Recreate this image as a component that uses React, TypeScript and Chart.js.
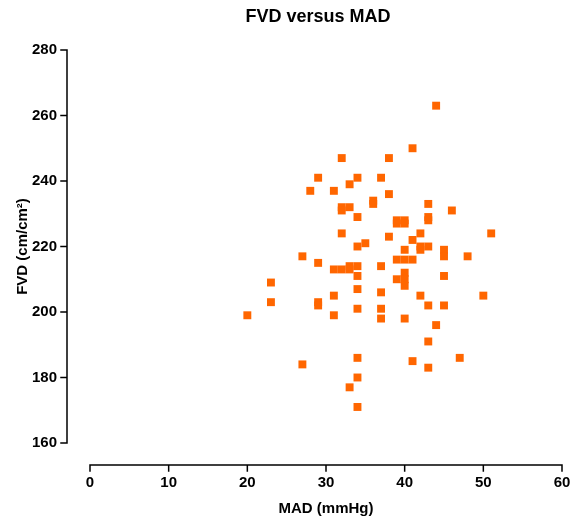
import React, { useEffect, useRef } from "react";
import { Chart, registerables } from "chart.js";

Chart.register(...registerables);

// MAD (mmHg)
const madValues = [
  44, 41, 32, 38, 29, 34, 37, 33, 28, 31, 38, 36, 36, 43, 32, 32, 33, 46, 34, 43,
  43, 39, 39, 40, 40, 32, 42, 51, 38, 41, 35, 34, 42, 42, 43, 40, 45, 45, 48, 27,
  29, 39, 40, 41, 31, 32, 33, 33, 34, 37, 40, 40, 40, 39, 34, 45, 23, 34, 37, 42,
  50, 31, 23, 29, 29, 34, 37, 43, 45, 20, 31, 37, 40, 44, 43, 47, 34, 27, 41, 43,
  34, 33, 34,
];

// FVD (cm/cm²)
const fvdValues = [
  263, 250, 247, 247, 241, 241, 241, 239, 237, 237, 236, 234, 233, 233, 232, 231, 232, 231, 229, 229,
  228, 228, 227, 228, 227, 224, 224, 224, 223, 222, 221, 220, 220, 219, 220, 219, 219, 217, 217, 217,
  215, 216, 216, 216, 213, 213, 214, 213, 214, 214, 212, 210, 208, 210, 211, 211, 209, 207, 206, 205,
  205, 205, 203, 203, 202, 201, 201, 202, 202, 199, 199, 198, 198, 196, 191, 186, 186, 184, 185, 183,
  180, 177, 171,
];

const xTicks = [0, 10, 20, 30, 40, 50, 60];
const yTicks = [160, 180, 200, 220, 240, 260, 280];

const chartTitle = "FVD versus MAD";
const xTitle = "MAD (mmHg)";
const yTitle = "FVD (cm/cm\u00B2)";

const FONT = "Arial, 'Liberation Sans', Helvetica, sans-serif";

export default function App() {
  const ref = useRef<HTMLCanvasElement>(null);

  useEffect(() => {
    const canvas = ref.current;
    if (!canvas) return;

    const offsetAxes = {
      id: "offsetAxes",
      afterLayout(chart: any) {
        const t = chart.titleBlock;
        if (t) {
          t.left = chart.chartArea.left - 27;
          t.right = chart.width;
          t.width = t.right - t.left;
        }
      },
      afterDraw(chart: any) {
        const { ctx, chartArea, scales } = chart;
        const xs = scales.x;
        const ys = scales.y;
        const ax = chartArea.left - 23;
        const ay = chartArea.bottom + 22;
        ctx.save();
        ctx.strokeStyle = "#000";
        ctx.lineWidth = 1.5;
        ctx.lineCap = "square";
        ctx.beginPath();
        ctx.moveTo(ax, ys.getPixelForValue(yTicks[0]));
        ctx.lineTo(ax, ys.getPixelForValue(yTicks[yTicks.length - 1]));
        for (const v of yTicks) {
          const p = ys.getPixelForValue(v);
          ctx.moveTo(ax - 6, p);
          ctx.lineTo(ax, p);
        }
        ctx.moveTo(xs.getPixelForValue(xTicks[0]), ay);
        ctx.lineTo(xs.getPixelForValue(xTicks[xTicks.length - 1]), ay);
        for (const v of xTicks) {
          const p = xs.getPixelForValue(v);
          ctx.moveTo(p, ay);
          ctx.lineTo(p, ay + 6);
        }
        ctx.stroke();
        ctx.restore();
      },
    };

    const chart = new Chart(canvas, {
      type: "scatter",
      data: {
        datasets: [
          {
            label: "FVD",
            data: madValues.map((x, i) => ({ x, y: fvdValues[i] })),
            pointStyle: "rect",
            pointRadius: 5.6,
            pointHoverRadius: 5.6,
            backgroundColor: "#FF6600",
            borderColor: "#FF6600",
            borderWidth: 0,
          },
        ],
      },
      options: {
        responsive: false,
        animation: false,
        layout: { padding: { top: 0, right: 11, bottom: 0, left: 0 } },
        plugins: {
          legend: { display: false },
          tooltip: { enabled: false },
          title: {
            display: true,
            text: chartTitle,
            color: "#000",
            font: { family: FONT, size: 18, weight: "bold" },
            padding: { top: 6, bottom: 22.4 },
          },
        },
        scales: {
          x: {
            type: "linear",
            min: xTicks[0],
            max: xTicks[xTicks.length - 1],
            afterBuildTicks: (s: any) => {
              s.ticks = xTicks.map((v) => ({ value: v }));
            },
            afterFit: (s: any) => {
              s.height = 76;
              s.paddingLeft = 0;
              s.paddingRight = 0;
            },
            grid: { display: false, drawTicks: false },
            border: { display: false },
            ticks: {
              color: "#000",
              padding: 31,
              maxRotation: 0,
              font: { family: FONT, size: 15, weight: "bold" },
            },
            title: {
              display: true,
              text: xTitle,
              color: "#000",
              font: { family: FONT, size: 15, weight: "bold" },
              padding: { top: 0, bottom: 1 },
            },
          },
          y: {
            type: "linear",
            min: yTicks[0],
            max: yTicks[yTicks.length - 1],
            afterBuildTicks: (s: any) => {
              s.ticks = yTicks.map((v) => ({ value: v }));
            },
            afterFit: (s: any) => {
              s.width = 90;
              s.paddingTop = 0;
              s.paddingBottom = 0;
            },
            grid: { display: false, drawTicks: false },
            border: { display: false },
            ticks: {
              color: "#000",
              padding: 33,
              font: { family: FONT, size: 15, weight: "bold" },
            },
            title: {
              display: true,
              text: yTitle,
              color: "#000",
              font: { family: FONT, size: 15, weight: "bold" },
              padding: { top: 14, bottom: 0 },
            },
          },
        },
      } as any,
      plugins: [offsetAxes],
    });

    return () => chart.destroy();
  }, []);

  return (
    <div style={{ position: "absolute", left: 0, top: 0, width: 573, height: 519, background: "#fff" }}>
      <canvas ref={ref} width={573} height={519} style={{ display: "block" }} />
    </div>
  );
}
